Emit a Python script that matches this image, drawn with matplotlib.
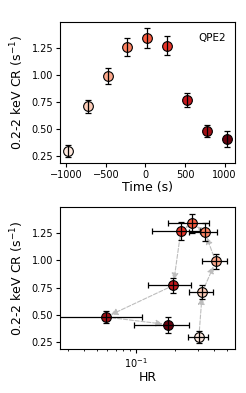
import numpy as np
import matplotlib
matplotlib.use("Agg")
import matplotlib.pyplot as plt

time_s = [-980, -730, -480, -230, 25, 275, 525, 780, 1030]
rate = [0.30, 0.71, 0.99, 1.26, 1.34, 1.27, 0.77, 0.48, 0.41]
rate_err = [0.054, 0.063, 0.072, 0.080, 0.090, 0.086, 0.066, 0.054, 0.074]
hr = [0.306, 0.325, 0.412, 0.340, 0.272, 0.222, 0.194, 0.0587, 0.1775]
hr_err = [0.052, 0.068, 0.088, 0.084, 0.094, 0.088, 0.070, 0.053, 0.080]
label_text = "QPE2"

colors = plt.cm.Reds(np.linspace(0.08, 1.0, len(time_s)))

fig = plt.figure(figsize=(2.46, 3.93), dpi=100)
ax1 = fig.add_axes([0.244, 0.585, 0.711, 0.359])
ax2 = fig.add_axes([0.244, 0.112, 0.711, 0.361])

ms = 7
# top panel
for i in range(len(time_s)):
    ax1.plot(time_s[i], rate[i], 'o', ms=ms, mfc=colors[i], mec='k', mew=0.8, zorder=2)
ax1.errorbar(time_s, rate, yerr=rate_err, fmt='none', ecolor='k', elinewidth=0.9,
             capsize=2, capthick=0.9, zorder=3)
ax1.text(0.95, 0.92, label_text, transform=ax1.transAxes, ha='right', va='top', fontsize=7.5)
ax1.set_xlabel("Time (s)", fontsize=9, labelpad=1)
ax1.set_ylabel(r"0.2-2 keV CR (s$^{-1}$)", fontsize=9)
ax1.set_yticks([0.25, 0.5, 0.75, 1.0, 1.25])
ax1.set_xticks([-1000, -500, 0, 500, 1000])
ax1.tick_params(labelsize=7, length=3, pad=2)

# bottom panel
for i in range(len(hr) - 1):
    ax2.annotate('', xy=(hr[i + 1], rate[i + 1]), xytext=(hr[i], rate[i]),
                 arrowprops=dict(arrowstyle='-|>', color='#bdbdbd', lw=0.8, ls='--',
                                 shrinkA=0, shrinkB=4, mutation_scale=10),
                 zorder=1)
for i in range(len(hr)):
    ax2.plot(hr[i], rate[i], 'o', ms=ms, mfc=colors[i], mec='k', mew=0.8, zorder=2)
ax2.errorbar(hr, rate, xerr=hr_err, yerr=rate_err, fmt='none', ecolor='k', elinewidth=0.9,
             capsize=2, capthick=0.9, zorder=3)
ax2.set_xscale('log')
ax2.set_xlim(0.026, 0.58)
ax2.set_ylim(ax1.get_ylim())
ax2.set_yticks([0.25, 0.5, 0.75, 1.0, 1.25])
ax2.set_xlabel("HR", fontsize=9, labelpad=1)
ax2.set_ylabel(r"0.2-2 keV CR (s$^{-1}$)", fontsize=9)
ax2.tick_params(labelsize=7, length=3, pad=2)
ax2.tick_params(which='minor', length=1.5)

fig.savefig("out.png", dpi=100)
